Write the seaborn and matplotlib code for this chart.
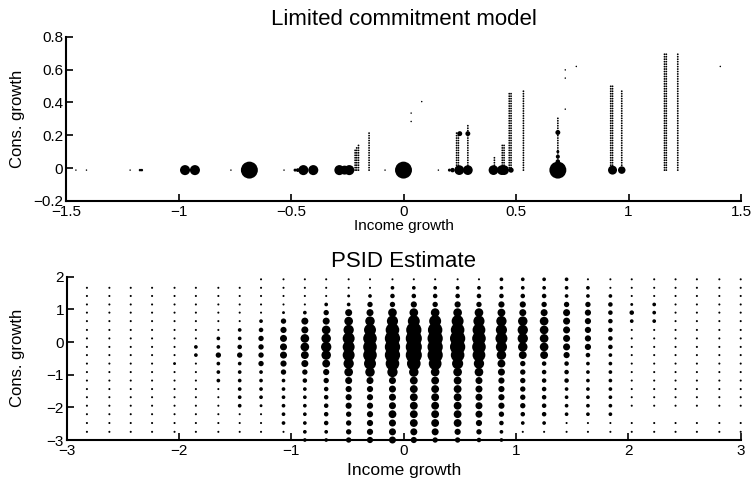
import numpy as np
import pandas as pd
import matplotlib
matplotlib.use("Agg")
import matplotlib.pyplot as plt
import seaborn as sns

# ---------------- data: Limited commitment model ----------------
bubble_x = [-1.456, -1.409, -1.215, -1.171, -1.163, -0.971, -0.927, -0.767, -0.685, -0.531,
            -0.482, -0.470, -0.445, -0.401, -0.285, -0.262, -0.241, -0.082, 0.000,
            0.155, 0.204, 0.218, 0.248, 0.286, 0.250, 0.286,
            0.400, 0.437, 0.447, 0.478,
            0.686, 0.686, 0.686, 0.686, 0.686,
            0.929, 0.970,
            0.034, 0.034, 0.081, 0.719, 0.719, 0.768, 0.719, 1.408]
bubble_y = [-0.012, -0.012, -0.012, -0.012, -0.012, -0.012, -0.012, -0.012, -0.012, -0.012,
            -0.012, -0.012, -0.012, -0.012, -0.012, -0.012, -0.012, -0.012, -0.012,
            -0.012, -0.012, -0.012, -0.012, -0.012, 0.210, 0.210,
            -0.012, -0.012, -0.012, -0.012,
            -0.012, 0.040, 0.070, 0.100, 0.217,
            -0.012, -0.012,
            0.335, 0.284, 0.405, 0.598, 0.548, 0.619, 0.359, 0.619]
bubble_w = [1, 1, 1, 1.7, 1.7, 6.7, 6.7, 1, 11.3, 1,
            2, 2.5, 6.7, 6.7, 6.7, 6, 6.7, 1, 11.3,
            1, 2, 3, 6.5, 6.5, 3.3, 3.3,
            6.5, 6.5, 6.5, 3.5,
            11.3, 3, 2.7, 2, 3.3,
            6, 5,
            1, 1, 1, 1, 1, 1, 1, 1]

# consumption-growth grid levels of the model (dotted columns)
cons_grid = [-0.012, 0.003, 0.018, 0.033, 0.048, 0.063, 0.078, 0.093, 0.108, 0.123,
             0.138, 0.153, 0.168, 0.183, 0.198, 0.213, 0.228, 0.243, 0.258, 0.273,
             0.288, 0.303, 0.318, 0.333, 0.348, 0.363, 0.378, 0.393, 0.408, 0.423,
             0.438, 0.453, 0.468, 0.483, 0.498, 0.513, 0.528, 0.543, 0.558, 0.573,
             0.588, 0.603, 0.618, 0.633, 0.648, 0.663, 0.678, 0.693]
column_x = [-0.215, -0.208, -0.200, -0.153, 0.236, 0.244, 0.286, 0.404, 0.439, 0.447,
            0.470, 0.478, 0.533, 0.686, 0.921, 0.929, 0.970, 1.160, 1.168, 1.219]
column_top = [0.115, 0.130, 0.142, 0.213, 0.223, 0.223, 0.264, 0.075, 0.146, 0.146,
              0.456, 0.456, 0.481, 0.314, 0.507, 0.507, 0.477, 0.696, 0.696, 0.696]
column_w = 1.2

# ---------------- data: PSID estimate ----------------
psid_income = [-2.82, -2.62, -2.43, -2.24, -2.04, -1.85, -1.65, -1.46, -1.27, -1.07,
               -0.88, -0.69, -0.49, -0.30, -0.10, 0.09, 0.28, 0.48, 0.67, 0.87,
               1.06, 1.25, 1.45, 1.64, 1.84, 2.03, 2.23, 2.42, 2.61, 2.81, 3.00]
psid_cons = [1.92, 1.66, 1.41, 1.15, 0.90, 0.64, 0.37, 0.11, -0.15, -0.40,
             -0.66, -0.92, -1.18, -1.44, -1.69, -1.95, -2.21, -2.48, -2.75, -3.00]
psid_weight = [
    [0, 1, 1, 1, 1, 1, 1, 1, 1, 1, 1, 1, 1, 1, 1, 1, 1, 1, 1, 1],
    [0, 1, 1, 1, 1, 1, 1, 1, 1, 1, 1, 1, 1, 1, 1, 1, 1, 1, 1, 1],
    [0, 1, 1, 1, 1, 1, 1, 1, 1, 1, 1, 1, 1, 1, 1, 1, 1, 1, 1, 1],
    [0, 1, 1, 1, 1, 1, 1, 1, 1, 1, 1, 1, 1, 1, 1, 1, 1, 1, 1, 1],
    [0, 1, 1, 1, 1, 1, 1, 1, 1, 1, 1.5, 1, 1, 1, 1, 1, 1, 1, 1, 1],
    [0, 1, 1, 1, 1, 1, 1, 1, 2, 2, 1, 1, 1, 1, 1, 1, 1, 1, 1, 1],
    [0, 1, 1, 1, 1, 1, 1, 2, 2, 3, 2, 2, 2, 1, 1, 1, 1, 1, 1, 1],
    [0, 1, 1, 1, 1, 1, 2, 2, 2.5, 3, 2, 2, 2, 2, 2, 2, 1, 1, 1, 1],
    [1, 1, 1, 1, 1, 2, 2.5, 3, 3, 3, 3, 2, 2, 2, 2, 1.5, 1, 1, 1, 1],
    [1, 1, 1, 1, 1.5, 3, 3.5, 4, 4, 4, 3.5, 3, 2, 2, 2, 2, 2, 2, 1, 1],
    [1, 1, 1, 1, 2, 4, 4, 5, 5, 4.5, 4, 3, 2.5, 2, 2, 2, 2, 2, 2, 2],
    [1, 1, 1, 2, 3, 4, 5, 5.5, 6, 5.5, 4.5, 3.5, 3, 2.5, 2.5, 2.5, 2.5, 2.5, 2, 2],
    [1, 1, 1.5, 2, 4, 5, 6, 7, 7, 7, 6, 5, 4, 3.5, 3.5, 3.5, 3, 3, 3, 3],
    [1, 1, 2, 3, 4, 5.5, 7, 8, 8, 8, 7, 5.5, 4, 3.5, 3.5, 3.5, 3.5, 3.5, 3.5, 3.5],
    [1, 2, 2.5, 3, 5, 6.5, 8, 9, 9, 9, 8, 6, 4, 4, 4, 4, 4.5, 4, 4, 4],
    [1, 2, 2.5, 3.5, 5, 7, 9, 9.5, 9.5, 9.5, 8, 5.5, 4.5, 4.5, 4.5, 4.5, 4.5, 4.5, 4, 3.5],
    [1, 2, 2.5, 3, 5, 7, 8.5, 9, 9, 9, 7.5, 5, 4.5, 4.5, 4.5, 4.5, 4.5, 4.5, 4, 3],
    [1, 2, 2.5, 3.5, 5, 7, 8, 9, 9, 8, 6.5, 5, 4.5, 4.5, 4.5, 4.5, 4.5, 4.5, 3.5, 3],
    [1, 2, 2.5, 3, 5, 6.5, 7.5, 8, 8, 7.5, 6, 5, 4, 4, 4, 4, 4, 3.5, 3, 2.5],
    [2, 2, 2.5, 3.5, 4.5, 6, 6.5, 7, 6.5, 5.5, 4.5, 4, 3.5, 3.5, 3.5, 3.5, 3, 2.5, 2, 2],
    [2, 2, 2.5, 3.5, 4, 5.5, 6, 6, 5.5, 4.5, 3, 3, 3, 3, 3, 3, 2.5, 2, 1, 1],
    [2, 2, 2.5, 3, 4, 5, 5, 5, 5, 4.5, 2.5, 2.5, 2.5, 2.5, 2.5, 2.5, 2.5, 2, 1, 1],
    [2, 2, 2, 3, 4, 4, 4, 4, 4, 3.5, 2.5, 2.5, 2.5, 2, 2, 2, 2, 1, 1, 1],
    [1, 2, 2, 3, 3.5, 3.5, 3.5, 3.5, 3.5, 2.5, 2, 2, 2, 2, 2, 2, 2, 1, 1, 1],
    [1, 1, 2, 2.5, 2.5, 2.5, 2.5, 2.5, 2.5, 2, 2, 2, 2, 2, 2, 2, 2, 1, 1, 1],
    [1, 1, 1, 1.5, 2.5, 2, 1, 1, 1, 1, 1, 1, 1, 1, 1, 1, 0, 1, 1, 1],
    [1, 1, 1, 2, 2, 2, 1, 1, 1, 1, 1, 1, 1, 1, 1, 1, 0, 1, 1, 1],
    [1, 1, 1, 1, 1, 1, 1, 1, 1, 1, 1, 1, 1, 1, 1, 1, 0, 1, 1, 1],
    [1, 1, 1, 1, 1, 1, 1, 1, 1, 1, 1, 1, 1, 1, 1, 1, 0, 1, 1, 1],
    [1, 1, 1, 1, 1, 1, 1, 1, 1, 1, 1, 1, 1, 1, 1, 1, 0, 1, 1, 1],
    [1, 1, 1, 1, 1, 1, 1, 1, 1, 1, 1, 1, 1, 1, 1, 1, 0, 1, 1, 1],
]

top_xticks = [-1.5, -1, -0.5, 0, 0.5, 1, 1.5]
top_yticks = [-0.2, 0, 0.2, 0.4, 0.6, 0.8]
bot_xticks = [-3, -2, -1, 0, 1, 2, 3]
bot_yticks = [-3, -2, -1, 0, 1, 2]

# ---------------- tables ----------------
rows = [(x, y, w) for x, y, w in zip(bubble_x, bubble_y, bubble_w)]
for cx, ct in zip(column_x, column_top):
    for g in cons_grid:
        if g <= ct + 1e-9:
            rows.append((cx, g, column_w))
model_df = pd.DataFrame(rows, columns=["income", "cons", "weight"])

prow = []
for i, xv in enumerate(psid_income):
    for j, yv in enumerate(psid_cons):
        w = psid_weight[i][j]
        if w > 0:
            prow.append((xv, yv, w))
psid_df = pd.DataFrame(prow, columns=["income", "cons", "weight"])

# marker area (points^2) from weight: diameter grows linearly with weight
model_df["area"] = (model_df["weight"] * 1.5 * 0.72) ** 2
psid_df["area"] = (psid_df["weight"] * 1.65 * 0.72 + 0.3) ** 2

# ---------------- style ----------------
sns.set_style("ticks")
plt.rcParams["font.family"] = ["Liberation Sans", "DejaVu Sans"]
plt.rcParams["axes.unicode_minus"] = True
plt.rcParams["text.color"] = "black"
plt.rcParams["axes.labelcolor"] = "black"
plt.rcParams["xtick.color"] = "black"
plt.rcParams["ytick.color"] = "black"

fig = plt.figure(figsize=(7.55, 4.78), dpi=100)
W, H = 755.0, 478.0
ax1 = fig.add_axes([66 / W, (H - 201) / H, 675 / W, 164.3 / H])
ax2 = fig.add_axes([66.7 / W, (H - 440) / H, 674 / W, 163.3 / H])


def draw(ax, df):
    a = df["area"]
    sns.scatterplot(data=df, x="income", y="cons", size="area",
                    sizes=(a.min(), a.max()), size_norm=(a.min(), a.max()),
                    color="black", edgecolor="none", linewidth=0, legend=False,
                    ax=ax, clip_on=False, zorder=3)


draw(ax1, model_df)
draw(ax2, psid_df)

ax1.set_xlim(-1.5, 1.5)
ax1.set_ylim(-0.2, 0.8)
ax1.set_xticks(top_xticks)
ax1.set_yticks(top_yticks)
ax1.set_xticklabels(["\u22121.5", "\u22121", "\u22120.5", "0", "0.5", "1", "1.5"])
ax1.set_yticklabels(["\u22120.2", "0", "0.2", "0.4", "0.6", "0.8"])

ax2.set_xlim(-3, 3)
ax2.set_ylim(-3, 2)
ax2.set_xticks(bot_xticks)
ax2.set_yticks(bot_yticks)
ax2.set_xticklabels(["\u22123", "\u22122", "\u22121", "0", "1", "2", "3"])
ax2.set_yticklabels(["\u22123", "\u22122", "\u22121", "0", "1", "2"])

for ax in (ax1, ax2):
    sns.despine(ax=ax)
    for s in ("left", "bottom"):
        ax.spines[s].set_linewidth(1.5)
        ax.spines[s].set_color("black")
    ax.tick_params(direction="in", length=5, width=1.2, colors="black",
                   labelcolor="black", labelsize=11)
    ax.tick_params(axis="x", pad=3)
    ax.tick_params(axis="y", pad=2)
    ax.set_ylabel("Cons. growth", fontsize=12, color="black")

ax1.set_xlabel("Income growth", fontsize=11, color="black")
ax2.set_xlabel("Income growth", fontsize=12.5, color="black")
ax1.xaxis.set_label_coords(0.5, -0.11)
ax2.xaxis.set_label_coords(0.5, -0.14)
ax1.yaxis.set_label_coords(-0.061, 0.5)
ax2.yaxis.set_label_coords(-0.062, 0.5)

ax1.set_title("Limited commitment model", fontsize=16, pad=8.5, color="black")
ax2.set_title("PSID Estimate", fontsize=16, pad=7, color="black")

fig.savefig("out.png", dpi=100)
